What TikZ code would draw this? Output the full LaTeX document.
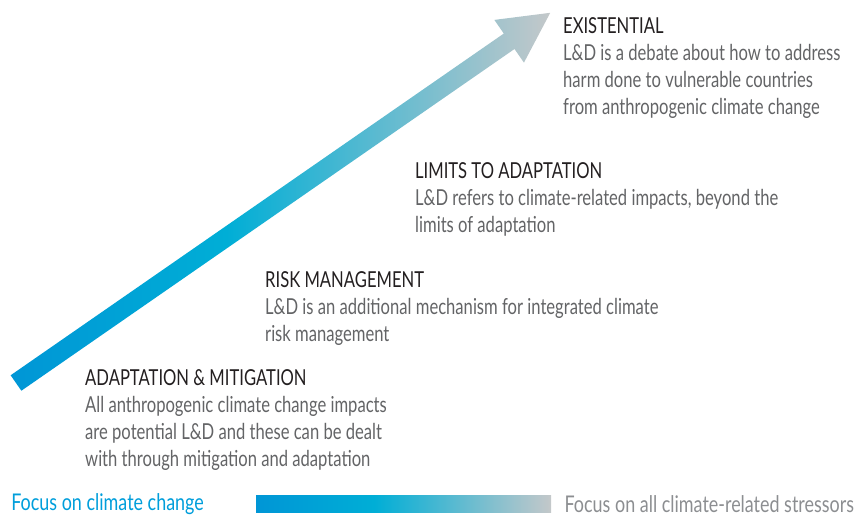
\documentclass[tikz,border=0pt]{standalone}
\usepackage{fontspec}
\setmainfont[FakeStretch=0.755]{Lato}
\newfontfamily\focusfont[FakeStretch=0.78]{Lato}
\usepackage{tikz}
\usetikzlibrary{positioning}

\definecolor{headc}{RGB}{35,31,32}
\definecolor{bodyc}{RGB}{99,100,102}
\definecolor{tailblue}{RGB}{0,150,214}
\definecolor{midcyan}{RGB}{0,174,214}
\definecolor{tipgrey}{RGB}{196,200,202}
\definecolor{focusblue}{RGB}{0,158,219}
\definecolor{focusgrey}{RGB}{140,142,145}

\pgfdeclarehorizontalshading{risegrad}{100bp}{color(0bp)=(tailblue); color(25bp)=(tailblue); color(45bp)=(midcyan); color(75bp)=(tipgrey); color(100bp)=(tipgrey)}

\tikzset{
  stage/.style={anchor=north west, inner sep=0pt, align=left, text=bodyc, font=\fontsize{22}{27}\selectfont},
  focus/.style={inner sep=0pt, font=\focusfont\fontsize{23}{27}\selectfont}
}

\begin{document}
\begin{tikzpicture}[x=1pt,y=1pt]
\useasboundingbox (0,0) rectangle (859,517);

% rising arrow
\begin{scope}[shift={(16,134)}, rotate=34.72]
\shade[shading=risegrad] (0,-9.4) -- (600,-9.4) -- (600,-26) -- (650,0) -- (600,26) -- (600,9.4) -- (0,9.4) -- cycle;
\end{scope}

% stages
\node[stage] (exist) at (563,500) {{\color{headc}EXISTENTIAL}\\L\&D is a debate about how to address\\harm done to vulnerable countries\\from anthropogenic climate change};
\node[stage] (limits) at (415,355) {{\color{headc}LIMITS TO ADAPTATION}\\L\&D refers to climate-related impacts, beyond the\\limits of adaptation};
\node[stage] (risk) at (265,246) {{\color{headc}RISK MANAGEMENT}\\L\&D is an additional mechanism for integrated climate\\risk management};
\node[stage] (adapt) at (85,148) {{\color{headc}ADAPTATION \& MITIGATION}\\All anthropogenic climate change impacts\\are potential L\&D and these can be dealt\\with through mitigation and adaptation};

% focus scale
\node[shading=risegrad, inner sep=0pt, minimum width=295pt, minimum height=17pt, anchor=south west] (bar) at (256,4) {};
\node[focus, text=focusblue, left=52pt of bar] (climfocus) {Focus on climate change};
\node[focus, text=focusgrey, right=13pt of bar] (allfocus) {Focus on all climate-related stressors};
\end{tikzpicture}
\end{document}
